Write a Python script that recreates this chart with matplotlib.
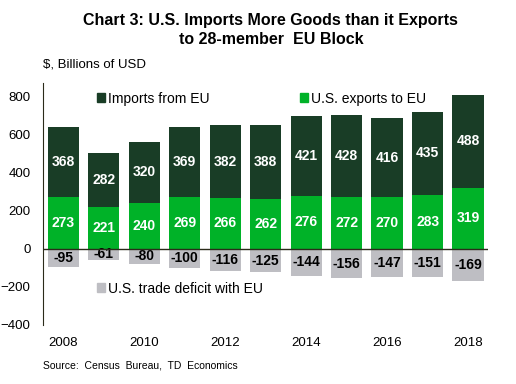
import matplotlib
matplotlib.use('Agg')
import matplotlib.pyplot as plt
import numpy as np
from matplotlib.patches import Patch

plt.rcParams['font.family'] = ['Liberation Sans', 'DejaVu Sans']

years = [2008, 2009, 2010, 2011, 2012, 2013, 2014, 2015, 2016, 2017, 2018]
exports = [273, 221, 240, 269, 266, 262, 276, 272, 270, 283, 319]
imports = [368, 282, 320, 369, 382, 388, 421, 428, 416, 435, 488]
deficit = [-95, -61, -80, -100, -116, -125, -144, -156, -147, -151, -169]

C_IMP = '#193d26'
C_EXP = '#00b228'
C_DEF = '#bebec3'

fig = plt.figure(figsize=(5.16, 3.84), dpi=100)
ax = fig.add_axes([0.0833, 0.154, 0.863, 0.630])

x = np.arange(len(years))
w = 0.77
ax.bar(x, exports, w, color=C_EXP, zorder=2)
ax.bar(x, imports, w, bottom=exports, color=C_IMP, zorder=2)
ax.bar(x, deficit, w, color=C_DEF, zorder=2)

for i in range(len(years)):
    ax.text(x[i], exports[i] / 2, str(exports[i]), ha='center', va='center',
            color='white', fontsize=10, fontweight='bold', zorder=3)
    ax.text(x[i], exports[i] + imports[i] / 2, str(imports[i]), ha='center', va='center',
            color='white', fontsize=10, fontweight='bold', zorder=3)
    ax.text(x[i], deficit[i] / 2, str(deficit[i]), ha='center', va='center',
            color='black', fontsize=10, fontweight='bold', zorder=3)

ax.axhline(0, color='#2b2b1a', linewidth=1.0, zorder=4)
ax.set_xlim(-0.5, 10.5)
ax.set_ylim(-400, 870)
ax.set_yticks([-400, -200, 0, 200, 400, 600, 800])
ax.set_xticks(x[::2])
ax.set_xticklabels([str(y) for y in years[::2]])
ax.tick_params(axis='both', length=0, labelsize=9.5)
ax.tick_params(axis='x', pad=9)
ax.tick_params(axis='y', pad=9)
for s in ['top', 'right', 'bottom']:
    ax.spines[s].set_visible(False)
ax.spines['left'].set_color('#2b2b1a')

leg_kw = dict(frameon=False, fontsize=10, handlelength=0.6, handleheight=0.6,
              handletextpad=0.2, borderaxespad=0)
l1 = ax.legend(handles=[Patch(color=C_IMP, label='Imports from EU')],
               loc='center left', bbox_to_anchor=(0.108, 0.935), **leg_kw)
ax.add_artist(l1)
l2 = ax.legend(handles=[Patch(color=C_EXP, label='U.S. exports to EU')],
               loc='center left', bbox_to_anchor=(0.565, 0.935), **leg_kw)
ax.add_artist(l2)
ax.legend(handles=[Patch(color=C_DEF, label='U.S. trade deficit with EU')],
          loc='center left', bbox_to_anchor=(0.108, 0.15), **leg_kw)

fig.text(0.525, 0.922, 'Chart 3: U.S. Imports More Goods than it Exports\nto 28-member  EU Block',
         ha='center', va='center', fontsize=11.5, fontweight='bold', linespacing=1.35)
fig.text(0.084, 0.833, '$, Billions of USD', ha='left', va='center', fontsize=9.5)
fig.text(0.084, 0.049, 'Source:  Census  Bureau,  TD  Economics', ha='left', va='center', fontsize=7.5)

fig.savefig('out.png', dpi=100)
